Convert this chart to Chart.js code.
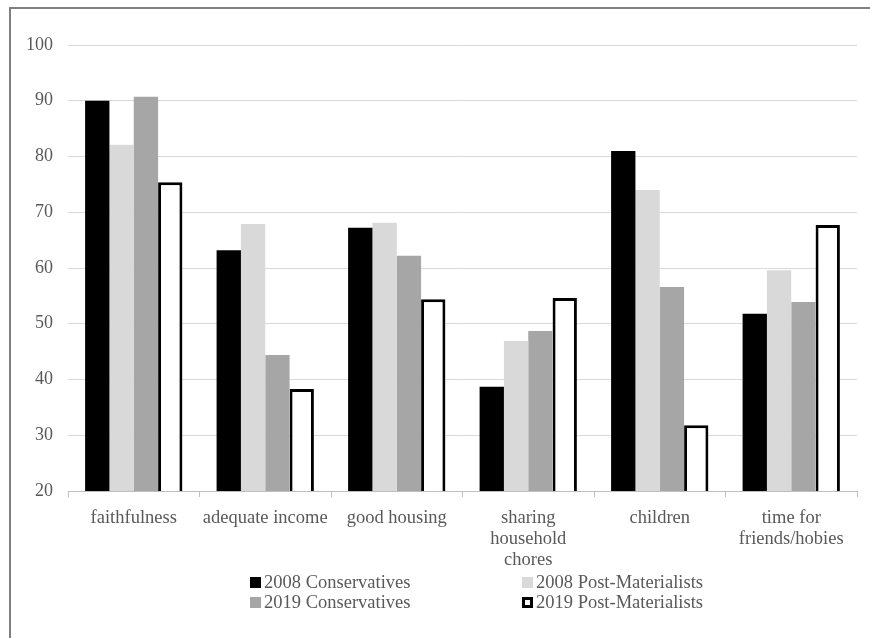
<!DOCTYPE html>
<html>
<head>
<meta charset="utf-8">
<script src="https://cdn.jsdelivr.net/npm/chart.js@4/dist/chart.umd.min.js"></script>
<style>
  body { margin: 0; background: #fff; }
  #wrap { position: relative; width: 870px; height: 638px; overflow: hidden; }
  #frame { position: absolute; left: 9px; top: 7px; width: 900px; height: 700px;
           border-left: 2px solid #7f7f7f; border-top: 2px solid #7f7f7f; }
  canvas { position: absolute; left: 0; top: 0; }
  .legend { position: absolute; font: 18.5px "Liberation Serif", "Times New Roman", serif; color: #595959; }
  .item { position: absolute; white-space: nowrap; line-height: 20px; }
  .box { display: inline-block; width: 11px; height: 11px; margin-right: 3px; vertical-align: 0px; box-sizing: border-box; }
</style>
</head>
<body>
<div id="wrap">
  <div id="frame"></div>
  <canvas id="chart" width="870" height="638"></canvas>
  <div class="legend" id="legend"></div>
</div>
<script>
// Chart data
const categories = [
    'faithfulness',
    'adequate income',
    'good housing',
    ['sharing', 'household', 'chores'],
    'children',
    ['time for', 'friends/hobies']
];
const seriesNames = ['2008 Conservatives', '2008 Post-Materialists', '2019 Conservatives', '2019 Post-Materialists'];
const cons2008 = [90.0, 63.2, 67.2, 38.7, 81.0, 51.8];
const post2008 = [82.1, 67.9, 68.1, 46.9, 74.0, 59.6];
const cons2019 = [90.7, 44.4, 62.2, 48.7, 56.6, 53.9];
const post2019 = [75.4, 38.3, 54.4, 54.6, 31.8, 67.7];
const yTicks = [20, 30, 40, 50, 60, 70, 80, 90, 100];

const textColor = '#595959';
const fontFamily = '"Liberation Serif", "Times New Roman", serif';

const ctx = document.getElementById('chart').getContext('2d');
new Chart(ctx, {
    type: 'bar',
    data: {
        labels: categories,
        datasets: [
            { label: seriesNames[0], data: cons2008, backgroundColor: '#000000', borderWidth: 0 },
            { label: seriesNames[1], data: post2008, backgroundColor: '#d9d9d9', borderWidth: 0 },
            { label: seriesNames[2], data: cons2019, backgroundColor: '#a6a6a6', borderWidth: 0 },
            { label: seriesNames[3], data: post2019, backgroundColor: '#ffffff', borderColor: '#000000', borderWidth: 3 }
        ]
    },
    options: {
        responsive: false,
        animation: false,
        layout: { padding: { left: 0, right: 13, top: 45, bottom: 0 } },
        datasets: { bar: { categoryPercentage: 0.74, barPercentage: 1.0 } },
        plugins: {
            legend: { display: false },
            tooltip: { enabled: false }
        },
        scales: {
            x: {
                afterFit: s => { s.height = 147; },
                grid: { display: true, drawOnChartArea: false, drawTicks: true, tickLength: 6, color: '#bfbfbf', offset: true },
                border: { display: true, color: '#bfbfbf', width: 1 },
                ticks: {
                    color: textColor, font: { family: fontFamily, size: 18.5, lineHeight: 1.12 },
                    padding: 11, maxRotation: 0, autoSkip: false
                }
            },
            y: {
                min: 20,
                max: 100,
                afterFit: s => { s.width = 68; },
                afterBuildTicks: s => { s.ticks = yTicks.map(v => ({ value: v })); },
                grid: { color: '#d9d9d9', lineWidth: 1, drawTicks: false },
                border: { display: false },
                ticks: { color: textColor, font: { family: fontFamily, size: 18 }, padding: 15 }
            }
        }
    }
});

// Legend in two columns, like the original
const legendStyles = [
    'background:#000;',
    'background:#d9d9d9;',
    'background:#a6a6a6;',
    'background:#fff;border:3px solid #000;'
];
const legendPos = [[250, 572], [522, 572], [250, 592], [522, 592]];
document.getElementById('legend').innerHTML = seriesNames.map((name, i) =>
    `<div class="item" style="left:${legendPos[i][0]}px;top:${legendPos[i][1]}px">` +
    `<span class="box" style="${legendStyles[i]}"></span>${name}</div>`
).join('');
</script>
</body>
</html>
